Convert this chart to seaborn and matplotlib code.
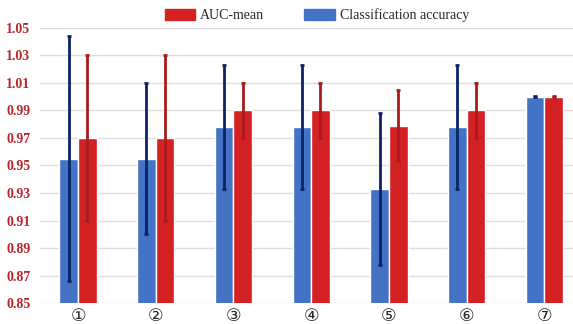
import numpy as np
import pandas as pd
import seaborn as sns
import matplotlib.pyplot as plt

# ---------- Data ----------
groups = ["①", "②", "③", "④", "⑤", "⑥", "⑦"]
acc_mean = [0.955, 0.955, 0.978, 0.978, 0.933, 0.978, 1.000]
acc_err = [0.089, 0.055, 0.045, 0.045, 0.055, 0.045, 0.0005]
auc_mean = [0.970, 0.970, 0.990, 0.990, 0.979, 0.990, 1.000]
auc_err = [0.060, 0.060, 0.020, 0.020, 0.026, 0.020, 0.0005]
yticks = [0.85, 0.87, 0.89, 0.91, 0.93, 0.95, 0.97, 0.99, 1.01, 1.03, 1.05]

BLUE = "#4472C4"
RED = "#D42124"


def main() -> int:
    df = pd.DataFrame({
        "group": groups * 2,
        "value": acc_mean + auc_mean,
        "err": acc_err + auc_err,
        "series": ["Classification accuracy"] * len(groups) + ["AUC-mean"] * len(groups),
    })

    sns.set_style("white")
    plt.rcParams["font.family"] = ["DejaVu Sans", "Noto Sans CJK SC"]

    fig = plt.figure(figsize=(5.73, 3.24), dpi=100)
    ax = fig.add_axes([40 / 573, 0.0648, 533 / 573, 0.8488])

    sns.barplot(data=df, x="group", y="value", hue="series",
                hue_order=["Classification accuracy", "AUC-mean"],
                palette=[BLUE, RED], width=0.48, errorbar=None,
                saturation=1, ax=ax, legend=False, zorder=2)

    # error bars on each bar centre
    err_cols = ["#0B2366", "#A81C1C"]
    for cont, errs, means, ec in zip(ax.containers, [acc_err, auc_err],
                                     [acc_mean, auc_mean], err_cols):
        xs = [p.get_x() + p.get_width() / 2 for p in cont.patches]
        ax.errorbar(xs, means, yerr=errs, fmt="none", ecolor=ec,
                    elinewidth=2.0, capsize=1.2, capthick=2, zorder=3)

    ax.set_ylim(0.85, 1.05)
    ax.set_xlim(-0.49, 6.37)
    ax.set_yticks(yticks)
    ax.set_yticklabels([f"{t:.2f}" for t in yticks], color="#B8262B",
                       fontweight="bold", family="Liberation Serif", fontsize=10)
    ax.tick_params(axis="x", labelsize=12.5, length=0, pad=3)
    ax.tick_params(axis="y", length=0, pad=7)
    ax.set_xlabel("")
    ax.set_ylabel("")
    ax.grid(axis="y", color="#DEDEDE", linewidth=1, zorder=0)
    ax.set_axisbelow(True)
    for s in ax.spines.values():
        s.set_visible(False)

    handles = [plt.Rectangle((0, 0), 1, 1, color=RED),
               plt.Rectangle((0, 0), 1, 1, color=BLUE)]
    fig.legend(handles, ["AUC-mean", "Classification accuracy"],
               loc="center", bbox_to_anchor=(0.553, 0.953), ncol=2, frameon=False,
               prop={"family": "Liberation Serif", "size": 10},
               handlelength=2.2, handleheight=0.9, columnspacing=2.9,
               handletextpad=0.35)

    fig.savefig("out.png", dpi=100)
    plt.close(fig)
    return 0


if __name__ == "__main__":
    raise SystemExit(main())
